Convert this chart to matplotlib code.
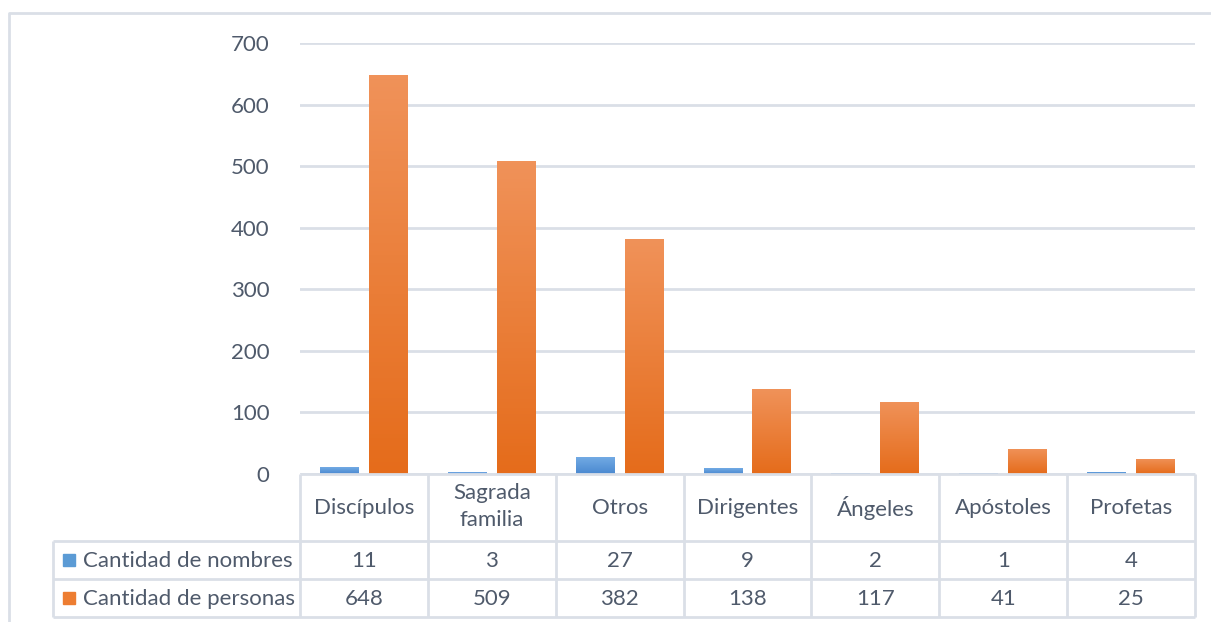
import matplotlib
matplotlib.use("Agg")
import matplotlib.pyplot as plt
import numpy as np
from matplotlib.colors import LinearSegmentedColormap
from matplotlib.patches import Rectangle

categories = ["Discípulos", "Sagrada\nfamilia", "Otros", "Dirigentes", "Ángeles", "Apóstoles", "Profetas"]
series_names = ["Cantidad de nombres", "Cantidad de personas"]
nombres = [11, 3, 27, 9, 2, 1, 4]
personas = [648, 509, 382, 138, 117, 41, 25]
yticks = [0, 100, 200, 300, 400, 500, 600, 700]

plt.rcParams['font.family'] = ['Lato', 'DejaVu Sans']
TXT = "#4f5a6b"
LINE = "#dadfe7"
FS = 16

W, H = 1211, 622
fig = plt.figure(figsize=(W / 100, H / 100), dpi=100)

def fx(px):
    return px / W

def fy(py):
    return 1 - py / H

# plot area
x0, x1, ytop, ybot = 300, 1195, 43, 474
ax = fig.add_axes([fx(x0), fy(ybot), fx(x1) - fx(x0), fy(ytop) - fy(ybot)])
n = len(categories)
ax.set_xlim(0, n)
ax.set_ylim(0, 700)
ax.set_yticks(yticks)
ax.set_yticklabels([str(v) for v in yticks], fontsize=FS, color=TXT)
ax.tick_params(axis='y', length=0, pad=22)
ax.set_xticks([])
for s in ax.spines.values():
    s.set_visible(False)
ax.grid(axis='y', color=LINE, lw=2)
ax.set_axisbelow(True)

bw = 0.305
gap = 0.078
xs = np.arange(n) + 0.5
grad_specs = [
    (nombres, xs - gap / 2 - bw / 2, ["#4a89d0", "#72aae4"]),
    (personas, xs + gap / 2 + bw / 2, ["#e56c1b", "#f09259"]),
]
for vals, pos, cols in grad_specs:
    cmap = LinearSegmentedColormap.from_list("g", cols)
    bars = ax.bar(pos, vals, width=bw, color=cols[0], edgecolor="none", zorder=2)
    for b in bars:
        x, y = b.get_x(), b.get_y()
        w, h = b.get_width(), b.get_height()
        grad = np.linspace(0, 1, 100).reshape(-1, 1)
        im = ax.imshow(grad, cmap=cmap, origin='lower', aspect='auto',
                       extent=[x, x + w, y, y + h], zorder=3)
        im.set_clip_path(b)
ax.set_xlim(0, n)
ax.set_ylim(0, 700)

# table overlay in pixel coords
tax = fig.add_axes([0, 0, 1, 1])
tax.set_xlim(0, W)
tax.set_ylim(H, 0)
tax.axis('off')
tax.patch.set_alpha(0)

colw = (x1 - x0) / n
vx = [x0 + i * colw for i in range(n + 1)]
r0, r1, r2, r3 = 474, 541, 579, 617
lx = 53
kw = dict(color=LINE, lw=2, solid_capstyle='butt')
tax.plot([x0, x1], [r0, r0], **kw)
for yy in (r1, r2, r3):
    tax.plot([lx, x1], [yy, yy], **kw)
for xx in vx:
    tax.plot([xx, xx], [r0, r3], **kw)
tax.plot([lx, lx], [r1, r3], **kw)

dy = -1
for i, c in enumerate(categories):
    cx = vx[i] + colw / 2
    if "\n" in c:
        tax.text(cx, (r0 + r1) / 2 - 1, c, ha='center', va='center', fontsize=FS,
                 color=TXT, linespacing=1.45)
    else:
        tax.text(cx, (r0 + r1) / 2 + dy, c, ha='center', va='center_baseline',
                 fontsize=FS, color=TXT)
    tax.text(cx, (r1 + r2) / 2 + dy, str(nombres[i]), ha='center', va='center_baseline',
             fontsize=FS, color=TXT)
    tax.text(cx, (r2 + r3) / 2 + dy, str(personas[i]), ha='center', va='center_baseline',
             fontsize=FS, color=TXT)

key_cols = ["#5b9bd5", "#ed7d31"]
for j, (nm, kc) in enumerate(zip(series_names, key_cols)):
    yc = (r1 + r2) / 2 if j == 0 else (r2 + r3) / 2
    tax.add_patch(Rectangle((63, yc - 6), 12, 12, color=kc))
    tax.text(83, yc + dy, nm, ha='left', va='center_baseline', fontsize=FS, color=TXT)

# outer chart border
tax.plot([9, 9, W + 5], [H + 5, 13, 13], color=LINE, lw=2)

fig.savefig("out.png", dpi=100)
